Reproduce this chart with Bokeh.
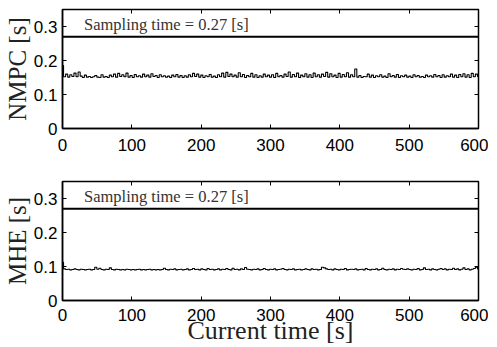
from bokeh.plotting import figure
from bokeh.layouts import column
from bokeh.models import Range1d, LinearAxis, FixedTicker, Label, CustomLabelingPolicy
from bokeh.embed import file_html
from bokeh.resources import INLINE

step_s = 3.0
sampling_time = 0.27
x_ticks = [0, 100, 200, 300, 400, 500, 600]
y_ticks = [0, 0.1, 0.2, 0.3]
y_tick_labels = {0: "0", 0.1: "0.1", 0.2: "0.2", 0.3: "0.3"}

nmpc = [
    0.185, 0.152, 0.160, 0.151, 0.158, 0.153, 0.163, 0.152, 0.166, 0.154, 0.150, 0.157, 0.151, 0.153, 0.150, 0.152, 0.156, 0.151, 0.150, 0.158,
    0.151, 0.153, 0.150, 0.157, 0.152, 0.160, 0.151, 0.162, 0.153, 0.158, 0.152, 0.163, 0.151, 0.156, 0.150, 0.159, 0.152, 0.155, 0.151, 0.160,
    0.152, 0.157, 0.151, 0.161, 0.153, 0.156, 0.150, 0.158, 0.152, 0.155, 0.151, 0.154, 0.150, 0.157, 0.152, 0.159, 0.151, 0.156, 0.150, 0.155,
    0.151, 0.158, 0.152, 0.162, 0.153, 0.160, 0.151, 0.157, 0.150, 0.155, 0.152, 0.159, 0.151, 0.154, 0.150, 0.158, 0.152, 0.163, 0.151, 0.165,
    0.153, 0.160, 0.152, 0.157, 0.151, 0.164, 0.152, 0.159, 0.150, 0.156, 0.152, 0.162, 0.151, 0.158, 0.150, 0.155, 0.151, 0.160, 0.152, 0.157,
    0.151, 0.158, 0.150, 0.162, 0.152, 0.156, 0.151, 0.160, 0.153, 0.166, 0.151, 0.159, 0.152, 0.163, 0.150, 0.157, 0.152, 0.161, 0.151, 0.158,
    0.150, 0.163, 0.152, 0.158, 0.151, 0.160, 0.153, 0.165, 0.151, 0.161, 0.152, 0.157, 0.150, 0.162, 0.151, 0.159, 0.152, 0.164, 0.151, 0.158,
    0.152, 0.175, 0.151, 0.156, 0.150, 0.153, 0.152, 0.160, 0.151, 0.157, 0.150, 0.155, 0.152, 0.158, 0.151, 0.154, 0.150, 0.161, 0.152, 0.156,
    0.151, 0.159, 0.150, 0.155, 0.152, 0.157, 0.151, 0.154, 0.150, 0.158, 0.152, 0.156, 0.151, 0.153, 0.150, 0.157, 0.152, 0.155, 0.151, 0.159,
    0.152, 0.156, 0.150, 0.158, 0.151, 0.155, 0.152, 0.160, 0.151, 0.157, 0.150, 0.159, 0.152, 0.161, 0.151, 0.158, 0.150, 0.162, 0.152, 0.160,
    0.153,
]

mhe = [
    0.112, 0.093, 0.091, 0.092, 0.090, 0.091, 0.093, 0.091, 0.090, 0.092, 0.091, 0.090, 0.091, 0.092, 0.090, 0.091, 0.098, 0.092, 0.095, 0.091,
    0.090, 0.092, 0.091, 0.096, 0.091, 0.090, 0.092, 0.091, 0.090, 0.091, 0.090, 0.092, 0.091, 0.090, 0.091, 0.090, 0.091, 0.092, 0.090, 0.091,
    0.090, 0.091, 0.092, 0.090, 0.091, 0.090, 0.091, 0.090, 0.091, 0.095, 0.091, 0.090, 0.092, 0.091, 0.093, 0.090, 0.091, 0.092, 0.090, 0.091,
    0.093, 0.090, 0.091, 0.094, 0.091, 0.092, 0.090, 0.093, 0.091, 0.090, 0.094, 0.091, 0.092, 0.090, 0.091, 0.093, 0.090, 0.092, 0.091, 0.094,
    0.091, 0.090, 0.095, 0.091, 0.092, 0.090, 0.093, 0.091, 0.097, 0.092, 0.091, 0.090, 0.092, 0.091, 0.093, 0.090, 0.091, 0.094, 0.091, 0.090,
    0.092, 0.091, 0.093, 0.090, 0.091, 0.092, 0.094, 0.091, 0.090, 0.092, 0.091, 0.093, 0.090, 0.091, 0.092, 0.090, 0.091, 0.093, 0.091, 0.090,
    0.093, 0.091, 0.092, 0.090, 0.091, 0.098, 0.096, 0.093, 0.091, 0.092, 0.090, 0.093, 0.091, 0.090, 0.092, 0.091, 0.094, 0.090, 0.091, 0.092,
    0.091, 0.093, 0.090, 0.091, 0.092, 0.090, 0.094, 0.091, 0.090, 0.092, 0.091, 0.093, 0.090, 0.091, 0.095, 0.091, 0.090, 0.092, 0.091, 0.093,
    0.090, 0.092, 0.091, 0.094, 0.092, 0.091, 0.093, 0.091, 0.090, 0.092, 0.091, 0.094, 0.090, 0.091, 0.096, 0.091, 0.092, 0.090, 0.093, 0.091,
    0.090, 0.092, 0.094, 0.091, 0.093, 0.090, 0.092, 0.091, 0.095, 0.091, 0.093, 0.090, 0.092, 0.096, 0.091, 0.093, 0.090, 0.092, 0.094, 0.098,
    0.093,
]

time = [i * step_s for i in range(len(nmpc))]

TICK_FONT = "Liberation Sans"
LABEL_FONT = "Liberation Serif"

NO_LABELS = "for (let i = 0; i < indices.size; i++) { indices.unset(i) } return indices"


def tick_only_axis(ticks):
    return LinearAxis(ticker=FixedTicker(ticks=ticks), major_label_text_font_size="1px",
                      major_label_policy=CustomLabelingPolicy(code=NO_LABELS),
                      major_tick_in=4, major_tick_out=0, minor_tick_in=0, minor_tick_out=0,
                      major_tick_line_color="black",
                      axis_line_color=None, major_label_standoff=0)


def make_panel(values, ylabel, top_border, bottom_border, tick_standoff, xlabel=None):
    p = figure(frame_width=416, frame_height=119, output_backend="svg", toolbar_location=None,
               x_range=Range1d(0, 600), y_range=Range1d(0, 0.35),
               min_border_left=55, min_border_right=10,
               min_border_top=top_border, min_border_bottom=bottom_border)
    p.xgrid.visible = False
    p.ygrid.visible = False
    p.outline_line_color = "black"
    p.outline_line_width = 1.5
    p.background_fill_color = "white"
    p.border_fill_color = "white"

    p.step(time, values, mode="center", line_color="black", line_width=1.1)
    p.line([0, 600], [sampling_time, sampling_time], line_color="black", line_width=2)
    p.add_layout(Label(x=31, y=0.305, text="Sampling time = 0.27 [s]",
                       text_font=LABEL_FONT, text_font_size="16.5px",
                       text_color="#333333", text_baseline="middle"))

    xa = p.xaxis[0]
    ya = p.yaxis[0]
    for ax in (xa, ya):
        ax.major_tick_in = 4
        ax.major_tick_out = 0
        ax.minor_tick_in = 0
        ax.minor_tick_out = 0
        ax.axis_line_color = "black"
        ax.axis_line_width = 1.5
        ax.major_tick_line_color = "black"
        ax.major_label_text_font = TICK_FONT
        ax.major_label_text_font_size = "17px"
        ax.major_label_text_color = "black"
    xa.ticker = FixedTicker(ticks=x_ticks)
    ya.ticker = FixedTicker(ticks=y_ticks)
    ya.major_label_overrides = y_tick_labels
    xa.major_label_standoff = tick_standoff
    ya.major_label_standoff = 5
    ya.axis_label = ylabel
    ya.axis_label_text_font = LABEL_FONT
    ya.axis_label_text_font_size = "25px"
    ya.axis_label_text_font_style = "normal"
    ya.axis_label_text_color = "#222222"
    ya.axis_label_standoff = 0
    if xlabel:
        xa.axis_label = xlabel
        xa.axis_label_text_font = LABEL_FONT
        xa.axis_label_text_font_size = "26px"
        xa.axis_label_text_font_style = "normal"
        xa.axis_label_text_color = "#222222"
        xa.axis_label_standoff = -8

    p.add_layout(tick_only_axis(x_ticks), "above")
    p.add_layout(tick_only_axis(y_ticks), "right")
    return p


p1 = make_panel(nmpc, "NMPC [s]", 9, 42, 10)
p2 = make_panel(mhe, "MHE [s]", 11, 38, 8, xlabel="Current time [s]")
layout = column(p1, p2, spacing=0)

open("out.html", "w").write(file_html(layout, INLINE))
